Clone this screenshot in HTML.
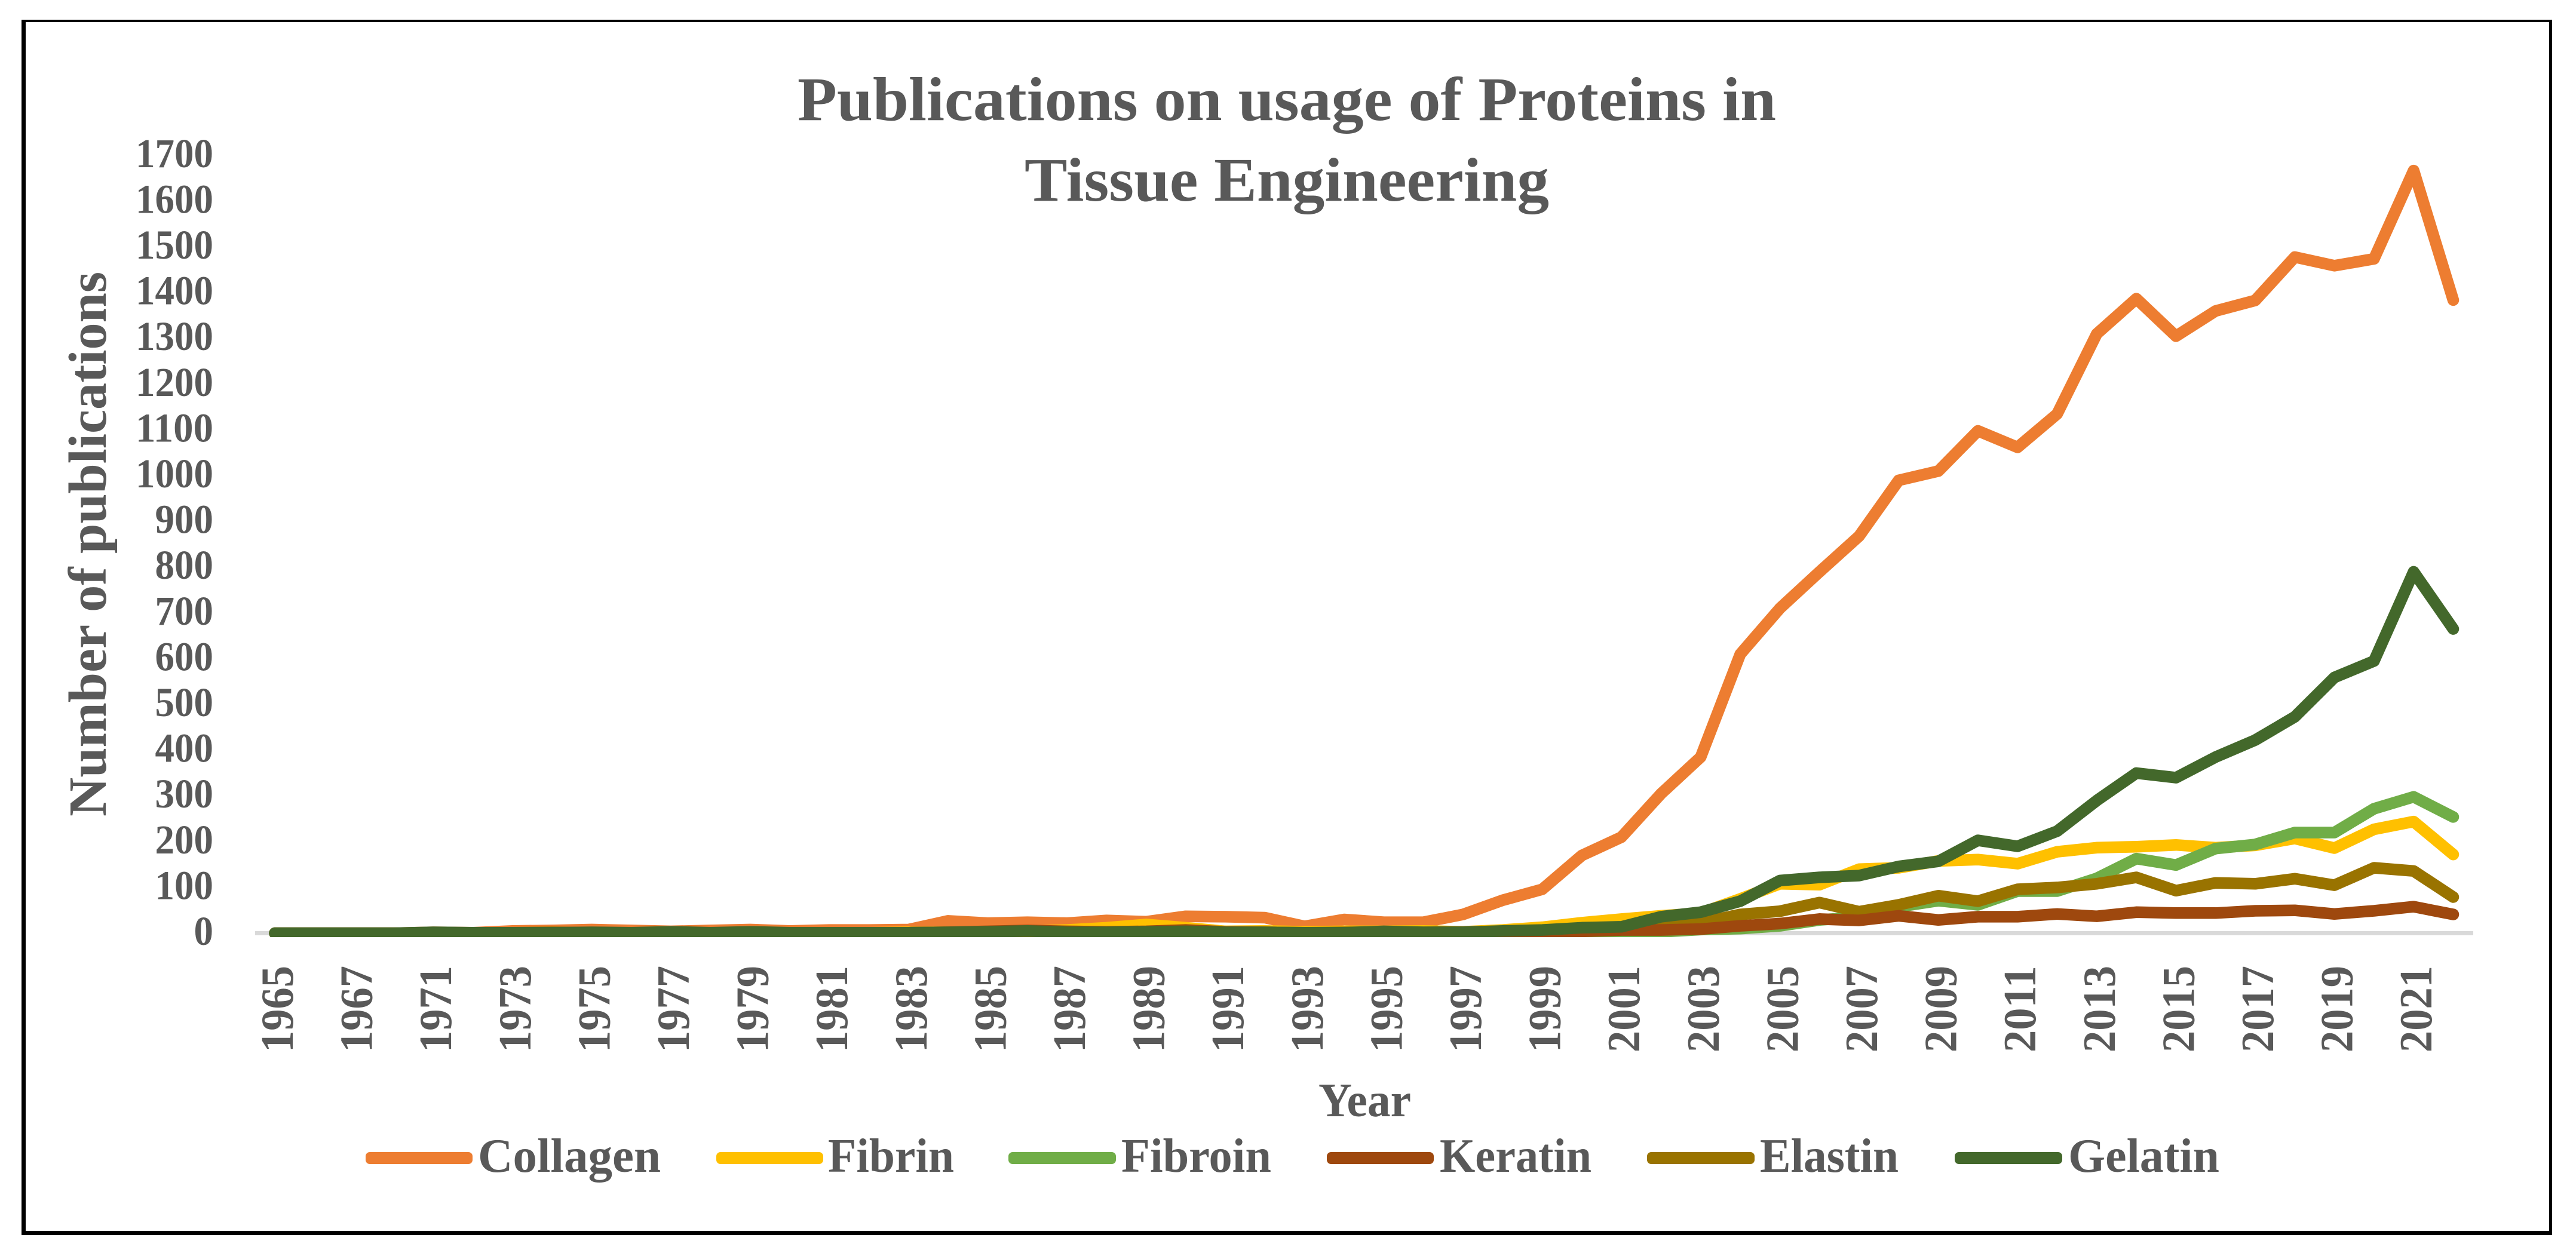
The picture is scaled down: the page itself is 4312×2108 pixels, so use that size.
<!DOCTYPE html>
<html lang="en">
<head>
<meta charset="utf-8">
<title>Publications on usage of Proteins in Tissue Engineering</title>
<style>
  html, body { margin: 0; padding: 0; background: #ffffff; }
  body { width: 4312px; height: 2108px; overflow: hidden; }
  svg { display: block; }
  text { font-family: "Liberation Serif", "DejaVu Serif", serif; font-weight: 700; fill: #595959; }
</style>
</head>
<body>
<svg id="chart" xmlns="http://www.w3.org/2000/svg" width="4312" height="2108" viewBox="0 0 4312 2108">
  <defs>
    <clipPath id="plot-clip"><rect x="0" y="0" width="4312" height="1569"></rect></clipPath>
  </defs>
  <rect x="0" y="0" width="4312" height="2108" fill="#ffffff"></rect>
  <g fill="#000000">
    <rect x="36" y="33" width="7" height="2035"></rect>
    <rect x="36" y="33" width="4236" height="4"></rect>
    <rect x="4267" y="33" width="5" height="2035"></rect>
    <rect x="36" y="2061" width="4236" height="7"></rect>
  </g>

  <g>
    <text x="1335" y="201" font-size="104" textLength="1638" lengthAdjust="spacingAndGlyphs">Publications on usage of Proteins in</text>
    <text x="1715" y="336" font-size="104" textLength="878" lengthAdjust="spacingAndGlyphs">Tissue Engineering</text>
  </g>

  <text transform="translate(177,1367) rotate(-90)" font-size="90" textLength="912" lengthAdjust="spacingAndGlyphs">Number of publications</text>
  <text x="2207" y="1869" font-size="80" textLength="155" lengthAdjust="spacingAndGlyphs">Year</text>

  <rect x="427" y="1559" width="3713" height="7" fill="#d9d9d9"></rect>
  <g id="y-ticks"></g>
  <g id="x-ticks"></g>
  <g id="series" clip-path="url(#plot-clip)"></g>

  <g>
    <g>
      <rect x="612" y="1929" width="179" height="20" rx="7" fill="#ed7d31"></rect>
      <text x="800" y="1962" font-size="80" textLength="306" lengthAdjust="spacingAndGlyphs">Collagen</text>
    </g>
    <g>
      <rect x="1199" y="1929" width="179" height="20" rx="7" fill="#ffc000"></rect>
      <text x="1386" y="1962" font-size="80" textLength="211" lengthAdjust="spacingAndGlyphs">Fibrin</text>
    </g>
    <g>
      <rect x="1688" y="1929" width="180" height="20" rx="7" fill="#70ad47"></rect>
      <text x="1877" y="1962" font-size="80" textLength="251" lengthAdjust="spacingAndGlyphs">Fibroin</text>
    </g>
    <g>
      <rect x="2221" y="1929" width="179" height="20" rx="7" fill="#9e480e"></rect>
      <text x="2410" y="1962" font-size="80" textLength="254" lengthAdjust="spacingAndGlyphs">Keratin</text>
    </g>
    <g>
      <rect x="2757" y="1929" width="180" height="20" rx="7" fill="#997300"></rect>
      <text x="2946" y="1962" font-size="80" textLength="232" lengthAdjust="spacingAndGlyphs">Elastin</text>
    </g>
    <g>
      <rect x="3272" y="1929" width="180" height="20" rx="7" fill="#43682b"></rect>
      <text x="3462" y="1962" font-size="80" textLength="253" lengthAdjust="spacingAndGlyphs">Gelatin</text>
    </g>
  </g>
</svg>

<script>
var categories = [1965,1966,1967,1968,
  1971,1972,1973,1974,1975,1976,1977,1978,1979,1980,
  1981,1982,1983,1984,1985,1986,1987,1988,1989,1990,
  1991,1992,1993,1994,1995,1996,1997,1998,1999,2000,
  2001,2002,2003,2004,2005,2006,2007,2008,2009,2010,
  2011,2012,2013,2014,2015,2016,2017,2018,2019,2020,
  2021,2022];
var yTickValues = [0,100,200,300,400,500,600,700,800,900,1000,1100,1200,1300,1400,1500,1600,1700];

var collagen = [0,0,0,0,
  2,1,5,6,8,6,4,6,8,5,
  7,7,8,27,22,24,22,28,25,37,
  36,34,15,30,24,24,41,72,96,170,
  210,305,385,610,710,790,868,990,1010,1098,
  1062,1135,1310,1387,1305,1360,1383,1478,1459,1474,
  1667,1384];
var fibrin = [0,0,0,0,
  0,0,0,0,1,1,1,0,1,1,
  1,1,2,2,3,4,7,12,19,12,
  4,5,3,4,4,5,3,7,13,23,
  31,38,44,75,108,106,140,143,158,161,
  152,178,187,189,193,187,192,207,186,227,
  244,172];
var fibroin = [0,0,0,0,
  0,0,0,0,0,0,0,0,0,0,
  0,0,0,0,0,0,0,0,0,0,
  0,0,0,0,0,0,0,0,0,0,
  1,3,8,10,16,29,35,58,71,62,
  92,92,120,163,149,185,194,220,220,272,
  298,254];
var keratin = [0,0,0,0,
  0,0,0,0,0,0,0,0,0,0,
  0,0,1,2,4,6,4,3,4,7,
  3,2,1,1,1,1,1,1,1,4,
  7,7,9,16,21,31,28,38,29,36,
  36,42,37,46,44,44,49,50,42,49,
  58,41];
var elastin = [0,0,0,0,
  1,0,1,2,1,1,0,1,1,1,
  1,1,1,2,3,3,3,2,2,3,
  2,2,1,2,2,2,3,4,5,8,
  10,12,23,41,48,67,47,62,82,70,
  96,100,108,122,93,110,108,119,105,143,
  136,79];
var gelatin = [0,0,0,0,
  2,1,1,1,2,1,3,1,3,1,
  1,1,1,2,3,5,2,2,3,4,
  2,2,1,1,4,2,2,5,7,12,
  14,36,46,70,115,122,126,146,157,203,
  190,223,290,350,340,385,422,473,559,595,
  790,665];

var SVG_NS = 'http://www.w3.org/2000/svg';

function xScale(i) { return 460 + 66.3 * i; }
function yScale(v) { return 1562.5 - 0.766 * v; }

// y-axis tick labels
var yGroup = document.getElementById('y-ticks');
yTickValues.forEach(function (v) {
  var label = String(v);
  var t = document.createElementNS(SVG_NS, 'text');
  
  
  t.setAttribute('x', 357 - label.length * 32.5);
  t.setAttribute('y', yScale(v) + 19.5);
  t.setAttribute('font-size', '69');
  t.setAttribute('textLength', label.length * 32.5);
  t.setAttribute('lengthAdjust', 'spacingAndGlyphs');
  t.textContent = label;
  yGroup.appendChild(t);
});

// x-axis tick labels: every second category
var xGroup = document.getElementById('x-ticks');
categories.forEach(function (year, i) {
  if (i % 2 !== 0) return;
  var t = document.createElementNS(SVG_NS, 'text');
  
  
  t.setAttribute('transform', 'translate(' + (xScale(i) + 30) + ',1762) rotate(-90)');
  t.setAttribute('font-size', '77');
  t.setAttribute('textLength', '145');
  t.setAttribute('lengthAdjust', 'spacingAndGlyphs');
  t.textContent = String(year);
  xGroup.appendChild(t);
});

// series lines, in paint order
function drawSeries(name, values, color) {
  var d = values.map(function (v, i) {
    return (i === 0 ? 'M' : 'L') + xScale(i).toFixed(1) + ' ' + yScale(v).toFixed(1);
  }).join(' ');
  var p = document.createElementNS(SVG_NS, 'path');
  
  
  p.setAttribute('d', d);
  p.setAttribute('fill', 'none');
  p.setAttribute('stroke', color);
  p.setAttribute('stroke-width', '19.5');
  p.setAttribute('stroke-linejoin', 'round');
  p.setAttribute('stroke-linecap', 'round');
  document.getElementById('series').appendChild(p);
}
drawSeries('collagen', collagen, '#ed7d31');
drawSeries('fibrin', fibrin, '#ffc000');
drawSeries('fibroin', fibroin, '#70ad47');
drawSeries('elastin', elastin, '#997300');
drawSeries('keratin', keratin, '#9e480e');
drawSeries('gelatin', gelatin, '#43682b');
</script>
</body>
</html>
